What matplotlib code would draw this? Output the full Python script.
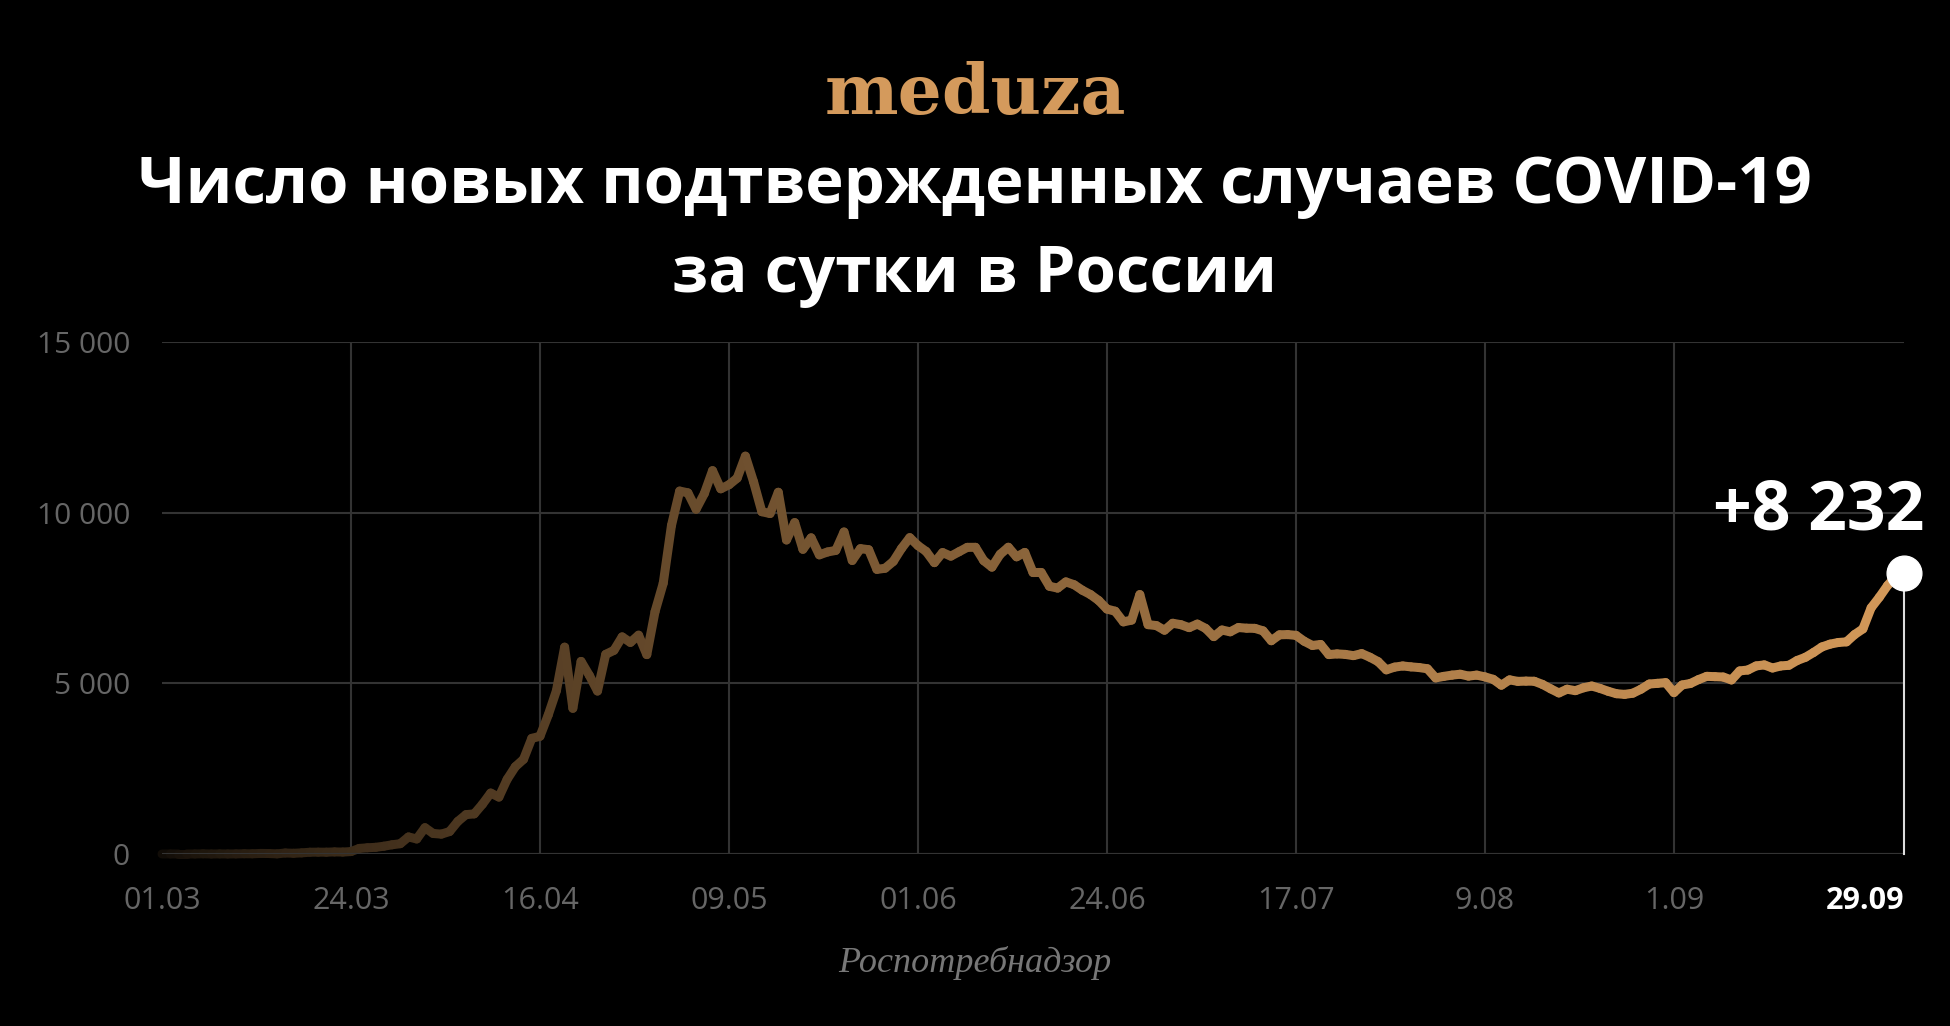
import matplotlib
matplotlib.use("Agg")
import matplotlib.pyplot as plt
import numpy as np
import pandas as pd
from matplotlib.collections import LineCollection

plt.rcParams['font.family'] = ['Open Sans', 'DejaVu Sans']

# daily new cases, 01.03 - 29.09.2020
march = [0, 1, 0, 0, 1, 6, 0, 3, 1, 3, 8, 6, 17, 14, 4, 30, 21, 33, 52, 54,
         53, 61, 57, 71, 163, 182, 196, 228, 270, 302, 500]
april = [440, 771, 601, 582, 658, 954, 1154, 1175, 1459, 1786, 1667, 2186,
         2558, 2774, 3388, 3448, 4070, 4785, 6060, 4268, 5642, 5236, 4774,
         5849, 5966, 6361, 6198, 6411, 5841, 7099]
may = [7933, 9623, 10633, 10581, 10102, 10559, 11231, 10699, 10817, 11012,
       11656, 10899, 10028, 9974, 10598, 9200, 9709, 8926, 9263, 8764, 8849,
       8894, 9434, 8599, 8946, 8915, 8338, 8371, 8572, 8952, 9268]
june = [9035, 8863, 8536, 8831, 8726, 8855, 8984, 8985, 8595, 8404, 8779,
        8987, 8706, 8835, 8246, 8248, 7843, 7790, 7972, 7889, 7728, 7600,
        7425, 7176, 7113, 6800, 6852, 7600, 6719, 6693]
july = [6556, 6760, 6718, 6632, 6736, 6611, 6368, 6562, 6509, 6635, 6615,
        6611, 6537, 6248, 6422, 6428, 6406, 6234, 6109, 6139, 5842, 5862,
        5848, 5811, 5871, 5765, 5635, 5395, 5475, 5509, 5482]
august = [5462, 5427, 5159, 5204, 5241, 5267, 5212, 5241, 5189, 5118, 4945,
          5102, 5057, 5065, 5061, 4969, 4839, 4718, 4828, 4785, 4870, 4921,
          4852, 4767, 4696, 4676, 4711, 4829, 4980, 5000, 5020]
september = [4729, 4952, 4995, 5110, 5205, 5195, 5185, 5099, 5363, 5390,
             5510, 5540, 5449, 5509, 5529, 5670, 5762, 5905, 6065, 6148,
             6196, 6215, 6431, 6595, 7212, 7523, 7867, 8135, 8232]

cases = np.array(march + april + may + june + july + august + september)
dates = pd.date_range("2020-03-01", "2020-09-29", freq="D")
days = np.arange(len(dates))

tick_labels = ["01.03", "24.03", "16.04", "09.05", "01.06", "24.06",
               "17.07", "9.08", "1.09", "29.09"]
tick_dates = pd.to_datetime(["2020-03-01", "2020-03-24", "2020-04-16",
                             "2020-05-09", "2020-06-01", "2020-06-24",
                             "2020-07-17", "2020-08-09", "2020-09-01",
                             "2020-09-29"])
tick_pos = [(d - dates[0]).days for d in tick_dates]

ORANGE = np.array([0.83, 0.60, 0.35])
GRID = '#333333'
LABEL = '#666666'

fig = plt.figure(figsize=(19.5, 10.26), dpi=100, facecolor='black')
W, H = 1950, 1026
ax = fig.add_axes([162 / W, (H - 854) / H, (1904 - 162) / W, (854 - 342) / H])
ax.set_facecolor('black')
ax.set_xlim(days[0], days[-1])
ax.set_ylim(0, 15000)
for s in ax.spines.values():
    s.set_visible(False)

ax.set_yticks([0, 5000, 10000, 15000])
ax.set_yticklabels(["0", "5 000", "10 000", "15 000"])
ax.yaxis.grid(True, color=GRID, linewidth=1.5, zorder=0)
ax.set_axisbelow(True)
ax.tick_params(axis='y', length=0, pad=23, labelsize=21.5, labelcolor=LABEL)

ax.set_xticks(tick_pos)
ax.set_xticklabels(tick_labels)
ax.tick_params(axis='x', length=0, pad=23, labelsize=22, labelcolor=LABEL)
last = ax.get_xticklabels()[-1]
last.set_color('white')
last.set_fontweight('bold')
last.set_ha('right')
for t in tick_pos[1:-1]:
    ax.axvline(t, color=GRID, linewidth=1.5, zorder=1)

# gradient line, faded to black at the start
pts = np.column_stack([days, cases])
segs = np.stack([pts[:-1], pts[1:]], axis=1)
frac = (days[:-1] + 0.5) / days[-1]
alpha = 0.06 + 0.94 * frac ** 0.65
cols = ORANGE[None, :] * alpha[:, None]
lc = LineCollection(segs, colors=cols, linewidths=6.5, capstyle='round',
                    joinstyle='round', zorder=3, clip_on=False)
ax.add_collection(lc)
ax.axhline(0, color=GRID, linewidth=1.5, zorder=4)

ax.plot([days[-1], days[-1]], [0, cases[-1]], color='#dddddd', lw=1.5,
        zorder=5, clip_on=False)
ax.plot(days[-1], cases[-1], 'o', ms=25, color='white', mec='white',
        zorder=6, clip_on=False)
ax.annotate("+" + f"{cases[-1]:,}".replace(",", " "), xy=(days[-1], cases[-1]),
            xytext=(15, 31), textcoords='offset points', ha='right',
            va='baseline', color='white', fontsize=49, fontweight='bold')

fig.text(975 / W, 1 - 114 / H, "meduza", ha='center', va='baseline',
         color='#d49a5c', fontsize=50, fontweight='bold',
         family=['DejaVu Serif'])
fig.text(975 / W, 1 - 203 / H, "Число новых подтвержденных случаев COVID-19",
         ha='center', va='baseline', color='white', fontsize=47,
         fontweight='bold')
fig.text(975 / W, 1 - 292 / H, "за сутки в России", ha='center',
         va='baseline', color='white', fontsize=47, fontweight='bold')
fig.text(975 / W, 1 - 972 / H, "Роспотребнадзор", ha='center',
         va='baseline', color='#777777', fontsize=26, style='italic',
         family=['Liberation Serif', 'DejaVu Serif'])

fig.savefig("out.png", dpi=100, facecolor='black')
